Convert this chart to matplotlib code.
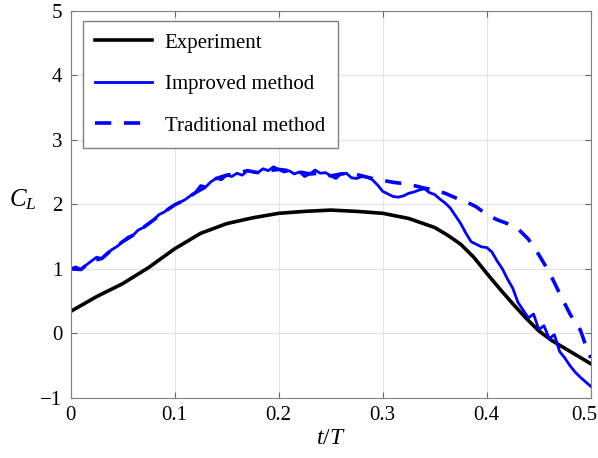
import numpy as np
import matplotlib.pyplot as plt
from matplotlib.transforms import ScaledTranslation

plt.rcParams['font.family'] = ['Liberation Serif', 'DejaVu Serif']
plt.rcParams['mathtext.fontset'] = 'custom'
plt.rcParams['mathtext.it'] = 'Liberation Serif:italic'
plt.rcParams['mathtext.rm'] = 'Liberation Serif'

# experiment
t_exp = [0, 0.025, 0.05, 0.075, 0.1, 0.125, 0.15, 0.175, 0.2, 0.225, 0.25,
         0.275, 0.3, 0.325, 0.35, 0.3625, 0.375, 0.3875, 0.4, 0.4125, 0.425,
         0.4375, 0.45, 0.4625, 0.475, 0.5]
cl_exp = [0.34, 0.57, 0.77, 1.02, 1.31, 1.55, 1.70, 1.79, 1.86, 1.89, 1.91,
          1.89, 1.86, 1.78, 1.64, 1.52, 1.38, 1.18, 0.93, 0.69, 0.46,
          0.24, 0.04, -0.11, -0.23, -0.47]

# improved method
t_imp = np.round(np.arange(0, 0.5001, 0.005), 3)
cl_imp = [1.00, 1.03, 0.99, 1.06, 1.12, 1.18, 1.16, 1.24, 1.30, 1.35,
          1.42, 1.49, 1.52, 1.60, 1.64, 1.70, 1.76, 1.84, 1.88, 1.94,
          1.99, 2.03, 2.07, 2.13, 2.18, 2.29, 2.27, 2.35, 2.40, 2.38,
          2.45, 2.43, 2.48, 2.45, 2.52, 2.50, 2.49, 2.55, 2.52, 2.58,
          2.54, 2.50, 2.52, 2.47, 2.50, 2.43, 2.47, 2.53, 2.48, 2.49,
          2.44, 2.40, 2.47, 2.48, 2.41, 2.40, 2.43, 2.42, 2.38, 2.30,
          2.20, 2.16, 2.12, 2.11, 2.13, 2.17, 2.19, 2.22, 2.24, 2.18,
          2.15, 2.08, 2.02, 1.94, 1.82, 1.70, 1.55, 1.42, 1.38, 1.34,
          1.33, 1.26, 1.12, 1.00, 0.84, 0.70, 0.48, 0.36, 0.24, 0.30,
          0.06, 0.12, -0.08, -0.02, -0.28, -0.38, -0.50, -0.60, -0.68, -0.75,
          -0.82]

# traditional method
t_tra = [0, 0.01, 0.02, 0.03, 0.04, 0.05, 0.06, 0.07, 0.08, 0.09, 0.1,
         0.11, 0.12, 0.13, 0.14, 0.15, 0.16, 0.17, 0.18, 0.19, 0.2,
         0.21, 0.22, 0.23, 0.24, 0.25, 0.26, 0.27, 0.28, 0.29, 0.3,
         0.31, 0.32, 0.33, 0.34, 0.35, 0.36, 0.37, 0.38, 0.39, 0.4,
         0.41, 0.42, 0.43, 0.44, 0.45, 0.46, 0.47, 0.48, 0.49, 0.495, 0.5]
cl_tra = [1.00, 0.99, 1.12, 1.16, 1.30, 1.42, 1.52, 1.64, 1.76, 1.88, 1.99,
          2.07, 2.18, 2.27, 2.40, 2.45, 2.48, 2.52, 2.49, 2.52, 2.54,
          2.52, 2.50, 2.47, 2.48, 2.44, 2.47, 2.48, 2.44, 2.40, 2.37,
          2.34, 2.32, 2.29, 2.25, 2.22, 2.17, 2.10, 2.04, 1.96, 1.84,
          1.76, 1.70, 1.62, 1.46, 1.22, 0.95, 0.62, 0.30, 0.05, -0.18, -0.38]

fig = plt.figure(figsize=(5.98, 4.58), dpi=100)
ax = fig.add_axes([0.118, 0.131, 0.870, 0.846])

ax.plot(t_exp, cl_exp, color='black', lw=2.6, label='Experiment')
ax.plot(t_imp, cl_imp, color='#0000ff', lw=2.0, label='Improved method')
ax.plot(t_tra, cl_tra, color='#0000ff', lw=2.6, ls=(0, (4.5, 3.5)),
        label='Traditional method')

ax.set_xlim(0, 0.5)
ax.set_ylim(-1, 5)
ax.set_xticks([0, 0.1, 0.2, 0.3, 0.4, 0.5])
ax.set_xticklabels(['0', '0.1', '0.2', '0.3', '0.4', '0.5'])
ax.set_yticks([-1, 0, 1, 2, 3, 4, 5])
ax.set_yticklabels(['\u22121', '0', '1', '2', '3', '4', '5'])
ax.grid(True, color='#e4e4e4', lw=0.8)
ax.tick_params(direction='in', top=True, right=True, labelsize=15, length=4,
               color='#666666')
ax.tick_params(axis='x', pad=6)
ax.tick_params(axis='y', pad=6)
for s in ax.spines.values():
    s.set_color('#808080')

# last x tick label sits a little left so it stays inside the picture
last = ax.get_xticklabels()[-1]
last.set_transform(last.get_transform() + ScaledTranslation(-7 / 100, 0, fig.dpi_scale_trans))

ax.set_xlabel('$t/T$', fontsize=17, labelpad=2)
ax.set_ylabel('$C_L$', fontsize=18, rotation=0)
ax.yaxis.set_label_coords(-0.092, 0.48)

leg = ax.legend(loc='upper left', fontsize=15, fancybox=False, framealpha=1,
                edgecolor='#808080', handlelength=2.75, handletextpad=0.6,
                borderpad=0.6, labelspacing=1.05, borderaxespad=0,
                bbox_to_anchor=(0.023, 0.974))
leg.get_frame().set_linewidth(1.0)

fig.savefig('out.png', dpi=100)
